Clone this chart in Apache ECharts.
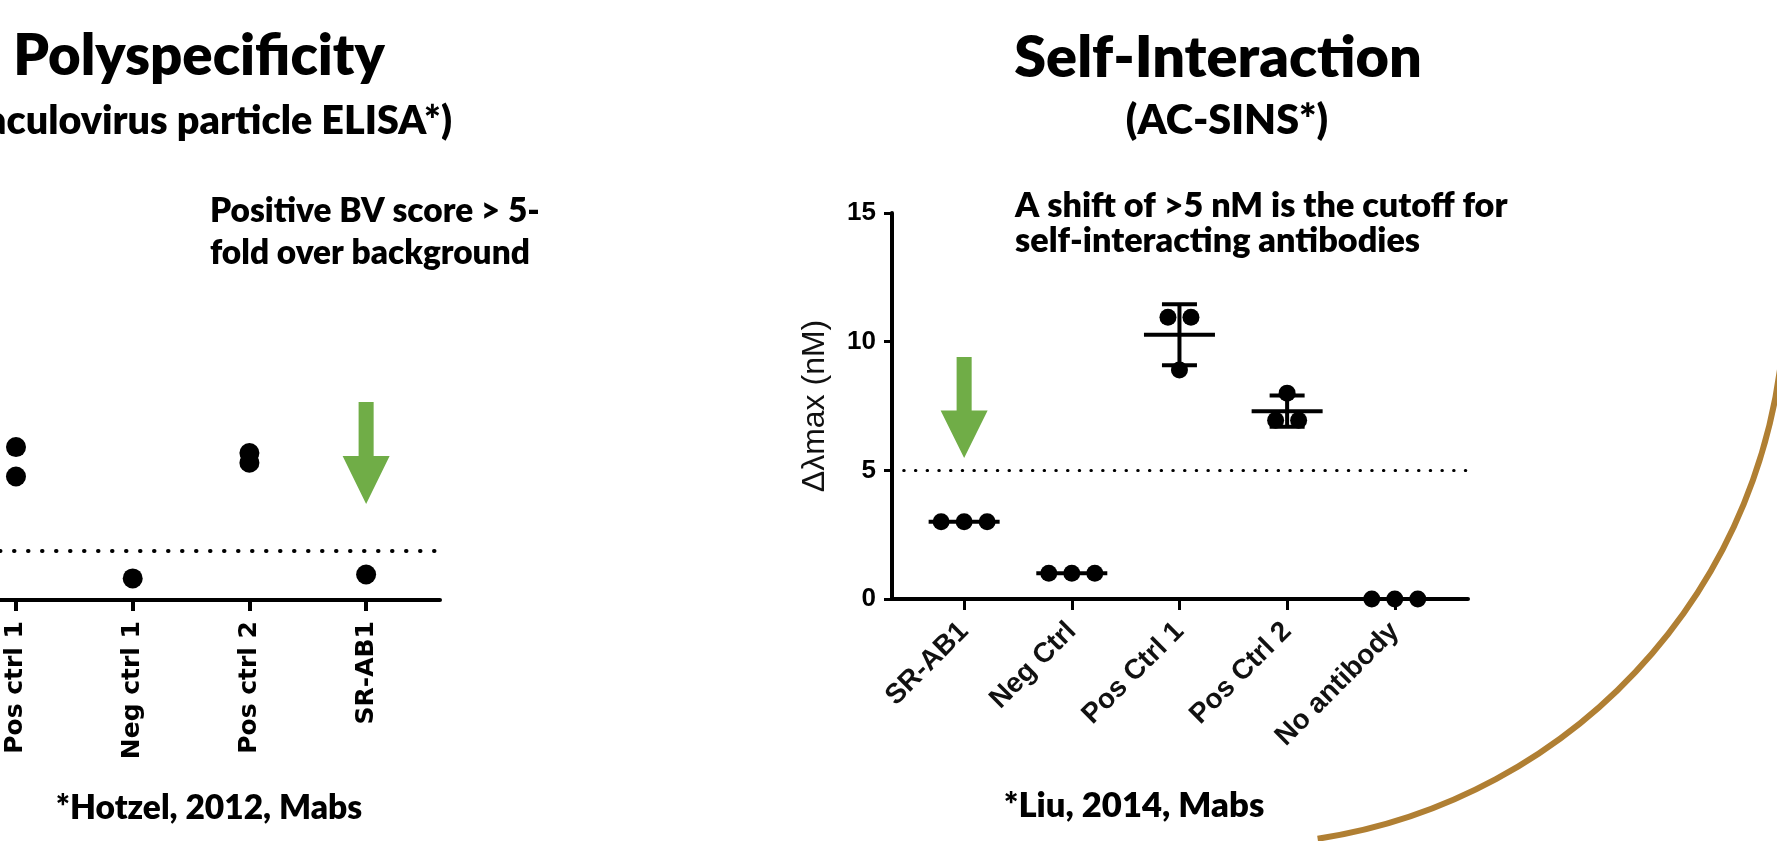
<!DOCTYPE html>
<html><head><meta charset="utf-8">
<script src="https://cdn.jsdelivr.net/npm/echarts@6/dist/echarts.min.js"></script>
<style>html,body{margin:0;padding:0;background:#fff}#c{width:1777px;height:841px}</style>
</head><body><div id="c"></div>
<script>
// ---------------- data ----------------
const polyTitle = 'Polyspecificity';
const polySubtitle = '(Baculovirus particle ELISA*)';
const polyNote = 'Positive BV score > 5-\nfold over background';
const polyRef = '*Hotzel, 2012, Mabs';
const polyCategories = ['Pos ctrl 1', 'Neg ctrl 1', 'Pos ctrl 2', 'SR-AB1'];
const polyScores = [[15.6, 12.6], [2.2], [15.0, 14.0], [2.6]];
const polyCutoff = 5;
const polyArrowValue = 15;

const siTitle = 'Self-Interaction';
const siSubtitle = '(AC-SINS*)';
const siNote = 'A shift of >5 nM is the cutoff for\nself-interacting antibodies';
const siRef = '*Liu, 2014, Mabs';
const siAxisName = 'Δλmax (nM)';
const siCategories = ['SR-AB1', 'Neg Ctrl', 'Pos Ctrl 1', 'Pos Ctrl 2', 'No antibody'];
const siShift = [[3.0, 3.0, 3.0], [1.0, 1.0, 1.0], [10.95, 10.95, 8.9], [8.0, 6.95, 6.95], [0, 0, 0]];
const siCutoff = 5;
const siYTicks = [0, 5, 10, 15];
const siArrowValue = 7.44;
const highlighted = 'SR-AB1';

// ---------------- helpers ----------------
const mean = a => a.reduce((s, v) => s + v, 0) / a.length;
const sd = a => { const m = mean(a); return a.length < 2 ? 0 : Math.sqrt(a.reduce((s, v) => s + (v - m) * (v - m), 0) / (a.length - 1)); };
// spread replicates that share (nearly) the same value side by side, like a dot plot
function spreadOffsets(vals, tol, step) {
  const offs = vals.map(() => 0), used = vals.map(() => false);
  for (let i = 0; i < vals.length; i++) {
    if (used[i]) continue;
    const grp = [i]; used[i] = true;
    for (let j = i + 1; j < vals.length; j++) if (!used[j] && Math.abs(vals[j] - vals[i]) <= tol) { grp.push(j); used[j] = true; }
    grp.forEach((k, n) => { offs[k] = (n - (grp.length - 1) / 2) * step; });
  }
  return offs;
}

const GREEN = '#70AD47';
const arrowPath = 'path://M34,0 L66,0 L66,53 L100,53 L50,100 L0,53 L34,53 Z';
const txtFont = 'Lato';
const axisFont = 'Liberation Sans';

const polyData = [];
polyScores.forEach((vals, i) => vals.forEach(v => polyData.push([i, v])));

const siData = [];
siShift.forEach((vals, i) => {
  const offs = spreadOffsets(vals, 0.3, 23);
  vals.forEach((v, r) => siData.push({ value: [i, v], symbolOffset: [offs[r], 0] }));
});
const siStats = siShift.map((vals, i) => [i, mean(vals), sd(vals)]);

const idx = arr => arr.map((_, i) => i);

const chart = echarts.init(document.getElementById('c'), null, { renderer: 'canvas' });

function txt(text, x, y, size, align, extra) {
  return {
    type: 'text', x: x, y: y, z: 10,
    style: Object.assign({
      text: text, fill: '#000', fontFamily: txtFont, fontWeight: 800, fontSize: size,
      align: align, textAlign: align, verticalAlign: 'middle', textVerticalAlign: 'middle'
    }, extra || {})
  };
}

const option = {
  backgroundColor: '#fff',
  animation: false,
  grid: [
    { left: 0, top: 208, width: 440, height: 392 },
    { left: 892, top: 213, width: 576, height: 386 }
  ],
  xAxis: [
    {
      gridIndex: 0, type: 'value', min: -0.137, max: 3.633,
      splitLine: { show: false },
      axisLine: { show: true, onZero: false, lineStyle: { color: '#000', width: 4 } },
      axisTick: { show: true, customValues: idx(polyCategories), length: 11, lineStyle: { color: '#000', width: 4 } },
      axisLabel: {
        customValues: idx(polyCategories), formatter: v => polyCategories[Math.round(v)],
        rotate: 90, margin: 21, color: '#000', fontFamily: 'DejaVu Sans', fontWeight: 'bold', fontSize: 25
      }
    },
    {
      gridIndex: 1, type: 'value', min: -0.67, max: 4.68,
      splitLine: { show: false },
      axisLine: { show: true, onZero: false, lineStyle: { color: '#000', width: 4 } },
      axisTick: { show: true, customValues: idx(siCategories), length: 11, lineStyle: { color: '#000', width: 3 } },
      axisLabel: {
        customValues: idx(siCategories), formatter: v => siCategories[Math.round(v)],
        rotate: 45, margin: 28, color: '#111', fontFamily: axisFont, fontWeight: 'bold', fontSize: 28
      }
    }
  ],
  yAxis: [
    { gridIndex: 0, type: 'value', min: 0, max: 40, show: false, splitLine: { show: false } },
    {
      gridIndex: 1, type: 'value', min: siYTicks[0], max: siYTicks[siYTicks.length - 1], interval: siYTicks[1] - siYTicks[0],
      splitLine: { show: false },
      axisLine: { show: true, onZero: false, lineStyle: { color: '#000', width: 4 } },
      axisTick: { show: true, length: 8, lineStyle: { color: '#000', width: 3 } },
      axisLabel: { margin: 16, color: '#000', fontFamily: axisFont, fontWeight: 'bold', fontSize: 26 },
      name: siAxisName, nameLocation: 'middle', nameGap: 61,
      nameTextStyle: { color: '#111', fontFamily: axisFont, fontWeight: 'normal', fontSize: 32 }
    }
  ],
  series: [
    {
      type: 'scatter', xAxisIndex: 0, yAxisIndex: 0, data: polyData, symbolSize: 20,
      itemStyle: { color: '#000', opacity: 1 }, z: 3, silent: true,
      markLine: {
        silent: true, symbol: 'none', label: { show: false },
        lineStyle: { color: '#000', width: 4, type: [0.5, 13.5], cap: 'round', opacity: 1 },
        data: [{ yAxis: polyCutoff }]
      },
      markPoint: {
        silent: true, symbol: arrowPath, symbolSize: [47, 102], label: { show: false },
        itemStyle: { color: GREEN, opacity: 1 },
        data: [{ coord: [polyCategories.indexOf(highlighted), polyArrowValue] }]
      }
    },
    {
      type: 'custom', xAxisIndex: 1, yAxisIndex: 1, data: siStats, z: 2, silent: true,
      renderItem: function (params, api) {
        const x = api.value(0), m = api.value(1), s = api.value(2);
        const c = api.coord([x, m]);
        const st = { stroke: '#000', lineWidth: 4 };
        const kids = [{ type: 'line', shape: { x1: c[0] - 35.5, y1: c[1], x2: c[0] + 35.5, y2: c[1] }, style: st }];
        if (s > 0) {
          const hi = api.coord([x, m + s]), lo = api.coord([x, m - s]);
          kids.push({ type: 'line', shape: { x1: c[0], y1: hi[1], x2: c[0], y2: lo[1] }, style: st });
          kids.push({ type: 'line', shape: { x1: c[0] - 17.5, y1: hi[1], x2: c[0] + 17.5, y2: hi[1] }, style: st });
          kids.push({ type: 'line', shape: { x1: c[0] - 17.5, y1: lo[1], x2: c[0] + 17.5, y2: lo[1] }, style: st });
        }
        return { type: 'group', children: kids };
      }
    },
    {
      type: 'scatter', xAxisIndex: 1, yAxisIndex: 1, data: siData, symbolSize: 17,
      itemStyle: { color: '#000', opacity: 1 }, z: 3, silent: true,
      markLine: {
        silent: true, symbol: 'none', label: { show: false },
        lineStyle: { color: '#000', width: 3, type: [0.5, 11.2], cap: 'round', opacity: 1 },
        data: [{ yAxis: siCutoff }]
      },
      markPoint: {
        silent: true, symbol: arrowPath, symbolSize: [47, 101], label: { show: false },
        itemStyle: { color: GREEN, opacity: 1 },
        data: [{ coord: [siCategories.indexOf(highlighted), siArrowValue] }]
      }
    }
  ],
  graphic: [
    { type: 'arc', z: 0, silent: true, shape: { cx: 1235, cy: 295, r: 550, startAngle: 0, endAngle: 1.42, clockwise: true }, style: { fill: 'none', stroke: '#B07F33', lineWidth: 6 } },
    txt(polyTitle, 199, 57, 56.3, 'center'),
    txt(polySubtitle, 452, 121, 39.5, 'right'),
    txt(polyNote, 210, 232, 33.4, 'left', { lineHeight: 42 }),
    txt(polyRef, 209, 808, 33.5, 'center'),
    txt(siTitle, 1218, 58, 57.6, 'center'),
    txt(siSubtitle, 1227, 121, 41.3, 'center'),
    txt(siNote, 1015, 223, 34.2, 'left', { lineHeight: 35 }),
    txt(siRef, 1134, 806, 34.6, 'center')
  ]
};
chart.setOption(option);
</script></body></html>
